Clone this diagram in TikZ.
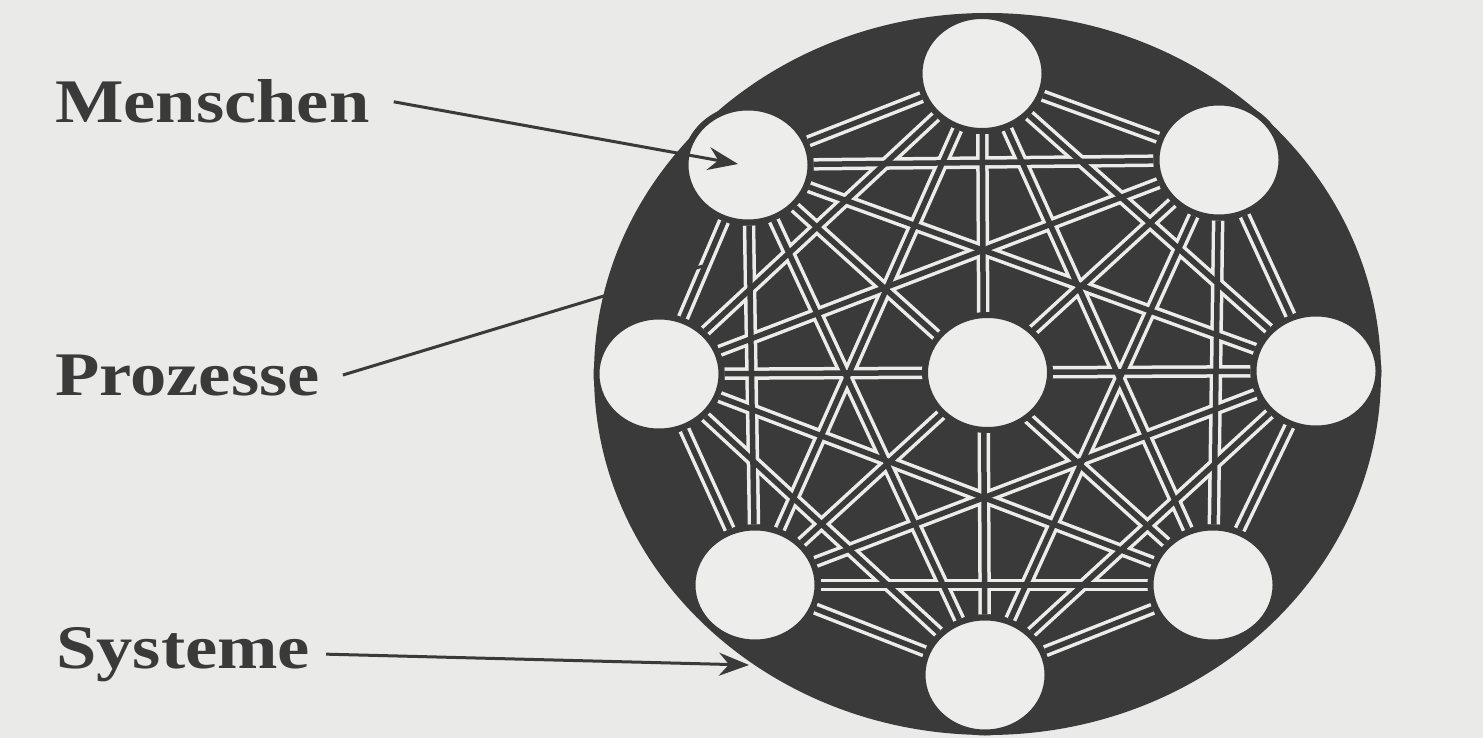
\documentclass[tikz,border=0pt]{standalone}
\usepackage{fontspec}
\setmainfont{Liberation Serif}
\usetikzlibrary{arrows.meta,shapes.geometric}
\definecolor{paper}{RGB}{234,234,232}
\definecolor{ink}{RGB}{58,58,58}
\definecolor{disc}{RGB}{237,237,235}
\definecolor{wline}{RGB}{236,236,234}
\pgfdeclarelayer{background}
\pgfsetlayers{background,main}
\begin{document}
\begin{tikzpicture}[x=1pt,y=-1pt,
  member/.style={ellipse, inner sep=0pt, minimum width=125pt, minimum height=115pt,
                 fill=disc, draw=ink, line width=6pt},
  tag/.style={anchor=base west, inner sep=0pt, text=ink,
              font=\fontsize{62}{62}\selectfont\bfseries},
  wire/.style={draw=wline, line width=12.5pt},
  wirecore/.style={draw=ink, line width=5.5pt},
  leader/.style={draw=ink, line width=3pt},
  pointer/.style={leader, -{Stealth[length=30pt,width=23pt,inset=10pt]}}
]
\useasboundingbox (0,0) rectangle (1483,738);

% nodes of the network
\node[member] (n1) at (982,73.5) {};
\node[member] (n2) at (1219,160) {};
\node[member] (n3) at (1316,371) {};
\node[member] (n4) at (1213,585) {};
\node[member] (n5) at (985,675) {};
\node[member] (n6) at (755,585) {};
\node[member] (n7) at (659,374) {};
\node[member] (n8) at (748,165) {};
\node[member] (c)  at (987.5,372.5) {};

\begin{pgfonlayer}{background}
  \fill[paper] (0,0) rectangle (1483,738);
  \fill[ink] (987.5,374) ellipse [x radius=393.5pt, y radius=361pt];
  \foreach \i in {1,...,7}{
    \pgfmathtruncatemacro\k{\i+1}
    \foreach \j in {\k,...,8}{ \draw[wire] (n\i) -- (n\j); }
  }
  \foreach \i in {1,...,7}{
    \pgfmathtruncatemacro\k{\i+1}
    \foreach \j in {\k,...,8}{ \draw[wirecore] (n\i) -- (n\j); }
  }
\end{pgfonlayer}

% labels
\node[tag] (menschen) at (55,123) {\scalebox{1.17}[1]{Menschen}};
\node[tag] (prozesse) at (55,395) {\scalebox{1.17}[1]{Prozesse}};
\node[tag] (systeme)  at (56,668) {\scalebox{1.17}[1]{Systeme}};

\coordinate (mtip) at (738,164);
\coordinate (ptip) at (703,266);
\coordinate (stip) at (749,665);

\draw[pointer] ([xshift=24pt]menschen.east) -- (mtip);
\draw[leader]  ([xshift=23pt]prozesse.east) -- (ptip);
\draw[pointer] ([xshift=16pt]systeme.east) -- (stip);
\end{tikzpicture}
\end{document}
